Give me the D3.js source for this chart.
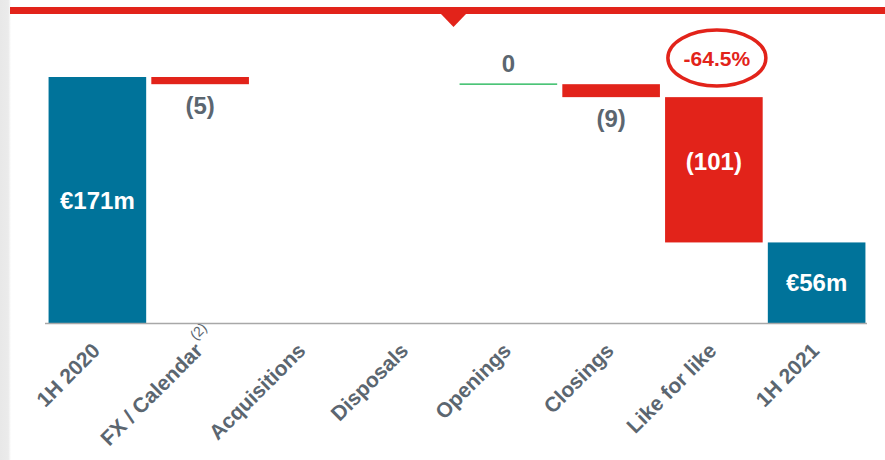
<!DOCTYPE html>
<html>
<head>
<meta charset="utf-8">
<script src="https://cdn.jsdelivr.net/npm/d3@7"></script>
<style>
  html, body { margin: 0; padding: 0; background: #fff; }
  svg { display: block; font-family: "Liberation Sans", Arial, sans-serif; }
</style>
</head>
<body>
<svg id="chart" width="885" height="460"></svg>
<script>
// Revenue bridge 1H 2020 -> 1H 2021 (EUR m)
const categories = ["1H 2020", "FX / Calendar", "Acquisitions", "Disposals", "Openings", "Closings", "Like for like", "1H 2021"];
const kinds      = ["total", "delta", "delta", "delta", "delta", "delta", "delta", "total"];
const values     = [171, -5, 0, 0, 0, -9, -101, 56];
const valueLabels = ["€171m", "(5)", "", "", "0", "(9)", "(101)", "€56m"];
const footnotes  = ["", "(2)", "", "", "", "", "", ""];
const highlight  = { category: "Like for like", text: "-64.5%" };

const teal = "#00739a", red = "#e2231a", green = "#10b04a", grey = "#5b6670";

const svg = d3.select("#chart");

// card edge and header strip
const defs = svg.append("defs");
const grad = defs.append("linearGradient").attr("id", "edge").attr("x1", 0).attr("x2", 1);
grad.append("stop").attr("offset", 0).attr("stop-color", "#e8e8e8");
grad.append("stop").attr("offset", 0.75).attr("stop-color", "#ebebeb");
grad.append("stop").attr("offset", 1).attr("stop-color", "#ffffff");
svg.append("rect").attr("x", 0).attr("y", 0).attr("width", 11).attr("height", 460).attr("fill", "url(#edge)");
svg.append("rect").attr("x", 10).attr("y", 7).attr("width", 875).attr("height", 7).attr("fill", red);
svg.append("path").attr("d", "M441,14 L466,14 L453.5,27 Z").attr("fill", red);

// scales
const x = d3.scaleBand().domain(categories).range([46, 868]).paddingInner(0.05).paddingOuter(0.025);
const y = d3.scaleLinear().domain([0, 171]).range([323, 77]);

// running totals for the bridge
let running = 0;
const steps = categories.map((c, i) => {
  let start, end;
  if (kinds[i] === "total") { start = 0; end = values[i]; running = values[i]; }
  else { start = running; end = running + values[i]; running = end; }
  return { c, i, kind: kinds[i], v: values[i], start, end, label: valueLabels[i] };
});

const g = svg.append("g");

// bars
g.selectAll("rect.bar")
  .data(steps.filter(d => d.v !== 0))
  .join("rect")
  .attr("class", "bar")
  .attr("x", d => x(d.c))
  .attr("width", x.bandwidth())
  .attr("y", d => y(Math.max(d.start, d.end)))
  .attr("height", d => Math.abs(y(d.start) - y(d.end)))
  .attr("fill", d => d.kind === "total" ? teal : red);

// zero-change marker (Openings)
steps.filter(d => d.v === 0 && d.label !== "").forEach(d => {
  g.append("line")
    .attr("x1", x(d.c)).attr("x2", x(d.c) + x.bandwidth())
    .attr("y1", y(d.start)).attr("y2", y(d.start))
    .attr("stroke", green).attr("stroke-width", 1.2);
});

// baseline
g.append("line")
  .attr("x1", 45).attr("x2", 867)
  .attr("y1", y(0) + 0.5).attr("y2", y(0) + 0.5)
  .attr("stroke", "#a8a8a8").attr("stroke-width", 1.5);

// value labels
steps.filter(d => d.label !== "").forEach(d => {
  const cx = x(d.c) + x.bandwidth() / 2;
  const top = y(Math.max(d.start, d.end)), bot = y(Math.min(d.start, d.end));
  const h = bot - top;
  let ty, fill;
  if (d.kind === "total") { ty = (top + bot) / 2; fill = "#fff"; }
  else if (d.v === 0) { ty = top - 21; fill = grey; }
  else if (h > 40) { ty = top + h * 0.44; fill = "#fff"; }
  else { ty = bot + 21; fill = grey; }
  g.append("text")
    .attr("x", cx).attr("y", ty).attr("dy", "0.36em")
    .attr("text-anchor", "middle")
    .attr("font-size", 24).attr("font-weight", "bold")
    .attr("fill", fill)
    .text(d.label);
});

// highlighted change
{
  const cx = x(highlight.category) + x.bandwidth() / 2 + 3;
  const cy = 58;
  g.append("ellipse").attr("cx", cx).attr("cy", cy).attr("rx", 49).attr("ry", 28)
    .attr("fill", "none").attr("stroke", red).attr("stroke-width", 3.5);
  g.append("text").attr("x", cx).attr("y", cy).attr("dy", "0.36em")
    .attr("text-anchor", "middle").attr("font-size", 21).attr("font-weight", "bold")
    .attr("fill", red).text(highlight.text);
}

// category axis
const labelShift = "translate(4,29) rotate(-45)";
const axis = d3.axisBottom(x).tickSize(0).tickPadding(0);
const ax = svg.append("g").attr("transform", `translate(0,${y(0)})`).call(axis);
ax.select(".domain").remove();
ax.selectAll(".tick text")
  .attr("font-size", 21).attr("font-weight", "bold").attr("fill", grey)
  .attr("font-family", "Liberation Sans, Arial, sans-serif")
  .attr("text-anchor", "end")
  .attr("x", 0).attr("y", 0).attr("dy", 0)
  .attr("transform", labelShift);

// footnote markers on axis labels
ax.selectAll(".tick").each(function(c) {
  const i = categories.indexOf(c);
  if (!footnotes[i]) return;
  d3.select(this).append("text")
    .attr("transform", labelShift)
    .attr("x", 2).attr("y", -14)
    .attr("text-anchor", "start")
    .attr("font-size", 14).attr("fill", grey)
    .attr("font-family", "Liberation Sans, Arial, sans-serif")
    .text(footnotes[i]);
});
</script>
</body>
</html>
